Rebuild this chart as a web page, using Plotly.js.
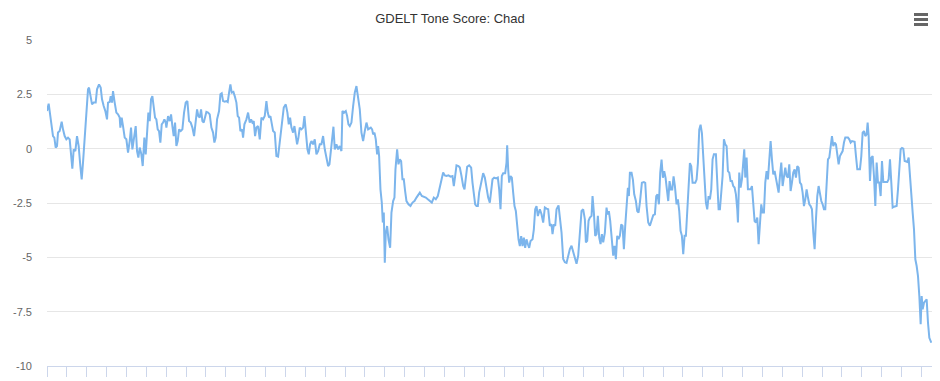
<!DOCTYPE html>
<html>
<head>
<meta charset="utf-8">
<script src="https://cdn.plot.ly/plotly-3.0.1.min.js"></script>
<style>
  html, body { margin: 0; padding: 0; background: #ffffff; }
  #chart { width: 940px; height: 381px; }
</style>
</head>
<body>
<div id="chart"></div>
<script>
// Chart text
const chartTitle = "GDELT Tone Score: Chad";

// Y axis ticks
const yTickVals = [5, 2.5, 0, -2.5, -5, -7.5, -10];
const yTickText = ["5", "2.5", "0", "-2.5", "-5", "-7.5", "-10"];

// Time (days from the first observation)
const days = [
  0,2.5,5,7.5,9,11,13,15,16.5,19,22,24,26.5,29,31.5,34,35.5,38,40,42.5,45,47.5,50,52,54,56.5,59,61.5,63,65,67.5,70,73,75,78,80.5,82.5,85,87.5,90,91.5,94,95.5,97.5,99,101.5,104,106.5,109,110,112,114,116.5,119,121.5,124,126,128,130.5,133,135,137,139,141.5,143.5,146,148,150,152,154,156,158,160,162,164,166,168,170,172,174,176,178,179,181.5,184,186,188,190,192,194,196,198,200.5,203,205.5,208,210.5,213,215.5,218,220.5,223,225,227,
  229,231,233,235,237,239,241.5,244,246.5,249,251,253,255,258,260,262,264,266.5,269,271,273,275,277,279.5,281.5,284,286,288,290,292.5,294,296,299,301.5,304,306,308,310,312,314,316.5,319,321.5,324,326.5,329,331,333,335,337,339,341.5,344,346.5,349,352,355,358,360.5,362.5,364.5,366.5,369,371,373,375,377,379,381.5,384,386,388,390.5,392.5,394.5,396.5,399,401.5,404,406.5,409,411.5,414,416.5,419,421.5,423.5,425.5,427.5,429.5,431.5,434,436.5,439,441.5,443,445.5,448,450,452,454,456.5,459,461.5,464,466.5,469,471.5,474,476.5,479,481.5,
  485.5,487.5,489,491,493,495,496.5,498,500,502,503.5,505,506.5,508,510,512,514.5,516.5,519,521,522.5,525,527,529,531,533,535,537,539,542,545,548,551,554,557,559,562,565,568,571,574,577,580,583,586,588,591,594,596.5,599,602,605,608,610,612,614,617,619,621.5,624,626,628,630,633,636,638,640,642,644,646,648,651,654,656.5,659,661.5,664,666,668,670.5,673.5,676,678,680,682,684,687,689,690,691.5,693,695,697,699,701,703,705,707,709,711,713,715,717,719,721,723,725,728,730,732,734,736,
  739,741.5,744,746.5,749,751.5,754,756.5,758,760,762,764,767,769,771.5,774,776.5,779,781.5,784,786.5,789,791.5,794,796.5,799,801.5,804,806.5,808,810,812,814,816.5,818,820,822,824,826,828,830,832,834,836.5,839,840.5,842.5,844.5,846.5,849,851,853,855,857,859,861,863,865,867,869,871,872.5,874,876.5,878.5,880.5,883,885,887,889,892,895,897,899,901.5,904,906.5,909,911.5,913.5,915.5,917.5,919.5,921.5,923.5,925.5,927.5,929.5,931.5,933.5,935.5,937.5,939.5,941.5,944,946,948,950,952,954,956,958,960,962,964,966,968,970,972,974,976,978,980,982,984,986,988,990,992,
  994,996,998,1000,1003,1005,1007,1009,1011,1013,1015,1017,1019,1021,1023,1025,1027,1029,1031,1033,1035,1036,1038,1040,1042,1044,1045.5,1047,1049,1051,
  1053,1055,1057,1059,1061,1063,1065,1067,1069,1071,1073,1075,1077,1079,1081,1083,1085,1087,1089,1091,1093,1095,1097,1099,1101,1103,1105,1107,1109,1111,1113,1115,1117,1119,1121,1123,1125,1127,1129,1131,1133,1135,1137,1139,1141,1143,1145,1147,1149,1151,1153,1155,1157,1159,1161,1163,1165,1167,1169,1171,1173,1175,1177,1179,1181,1183,1185,1187,1189,1191,1193,1195,1197,1199,1201,1203,1205,1207,1209,1211,1213,1215,1217,1219,1221,1223,1225,1227,1229,
  1230.5,1232,
  1234,1236,1238,1240,1242,1244,1246,1248,1250,1252,1254,1256,1258,1260,1262,1264,1266,1268,1270,1272,1274,1276,1278,1280,1282,1284,1286,1288,1290,1292,1294,1296,1298,1300,1302,1304,1306,1308,1310,
  1311.5,1313,1315,1317,1319,1321,1323,1326
];

// GDELT tone score
const tone = [
  1.73,2.07,1.50,1.04,0.58,0.51,0.05,0.12,0.74,0.81,1.24,0.89,0.58,0.43,0.51,0.43,-0.03,-0.92,-0.03,-0.11,0.58,0.12,-0.80,-1.41,-0.64,0.58,1.66,2.73,2.81,2.42,2.04,2.12,2.12,2.73,2.96,2.81,2.27,1.96,1.73,1.35,2.12,2.15,2.42,2.12,2.65,2.12,1.66,1.58,1.43,0.97,1.43,1.04,0.51,0.43,-0.18,0.35,0.97,-0.03,0.43,1.04,-0.11,-0.41,0.05,-0.26,-0.80,0.51,-0.26,0.97,1.66,1.27,2.27,2.42,1.96,1.43,1.35,0.89,0.81,0.28,1.12,1.20,1.35,1.20,0.97,1.50,1.27,1.58,1.04,0.58,1.20,0.12,0.35,0.89,0.81,0.89,1.66,2.12,2.19,1.27,1.20,0.97,0.58,1.35,1.81,1.50,
  1.43,1.81,1.27,1.20,1.50,1.69,1.66,1.58,0.97,0.74,0.28,0.51,1.35,1.73,2.50,2.55,2.19,2.16,2.19,2.15,2.58,2.96,2.58,2.61,2.42,2.12,1.50,1.43,0.81,0.89,0.51,1.12,1.35,1.66,1.20,1.35,1.20,1.27,0.58,0.97,1.04,0.43,1.43,1.35,1.50,2.19,1.66,1.43,1.50,1.04,0.81,0.74,-0.34,-0.37,0.28,1.20,1.89,2.04,1.66,1.12,1.43,0.97,0.74,1.04,0.66,0.20,0.51,0.97,0.89,0.97,1.50,0.66,-0.03,-0.26,0.20,0.35,0.20,0.43,-0.26,-0.11,0.20,0.20,0.58,-0.03,-0.41,-0.80,-0.72,-0.11,0.66,1.01,-0.03,0.20,-0.03,0.12,-0.11,1.73,1.66,1.73,1.50,1.12,1.04,1.20,1.96,2.58,2.88,2.27,1.81,0.74,0.35,0.81,1.20,0.89,
  0.97,0.89,0.66,0.74,0.43,-0.26,0.12,-0.34,-1.87,-2.48,-3.40,-2.94,-5.25,-3.87,-3.56,-4.17,-4.56,-2.94,-2.41,-2.25,-0.95,-0.03,-0.72,-0.49,-0.57,-1.41,-1.41,-1.95,-2.41,-2.56,-2.64,-2.48,-2.41,-2.25,-2.10,-2.02,-2.18,-2.22,-2.25,-2.33,-2.41,-2.48,-2.25,-2.33,-2.18,-1.87,-1.41,-1.10,-1.23,-1.26,-1.23,-1.29,-1.26,-1.72,-1.26,-0.77,-0.80,-0.87,-1.26,-1.72,-1.87,-1.26,-0.83,-0.77,-0.87,-1.56,-2.18,-2.56,-2.64,-2.64,-2.02,-1.56,-1.13,-1.33,-1.79,-2.25,-2.48,-1.87,-1.41,-1.33,-1.37,-1.33,-1.87,-2.79,-1.26,-1.13,-1.13,-0.64,0.15,-0.95,-1.56,-1.26,-1.33,-2.02,-2.64,-2.87,-3.56,-4.17,-4.48,-4.02,-4.48,-4.09,-4.56,-4.17,-4.40,-4.56,-4.25,-4.17,-3.71,-2.79,-2.64,-3.10,
  -2.79,-3.02,-3.40,-2.71,-2.76,-2.79,-3.55,-3.48,-3.93,-3.48,-3.55,-2.79,-2.61,-3.17,-3.86,-5.08,-5.23,-5.26,-4.92,-4.62,-4.47,-4.77,-5.08,-5.30,-4.92,-3.70,-2.87,-2.79,-3.25,-4.31,-4.24,-3.32,-3.17,-3.09,-2.18,-2.94,-4.01,-3.93,-3.09,-4.09,-4.39,-3.93,-4.31,-3.86,-2.71,-3.02,-2.87,-3.32,-4.01,-4.92,-4.47,-5.08,-4.01,-4.16,-4.01,-3.48,-3.55,-4.62,-3.55,-2.48,-1.80,-2.18,-1.11,-1.11,-1.42,-2.10,-2.41,-2.87,-2.94,-2.48,-1.57,-1.54,-1.57,-2.64,-3.40,-3.55,-3.25,-3.06,-3.02,-2.18,-2.10,-2.56,-1.11,-0.50,-1.34,-1.04,-1.34,-1.80,-2.41,-1.49,-1.88,-1.88,-1.27,-1.72,-2.56,-2.33,-2.87,-3.78,-4.01,-4.85,-4.01,-4.01,-2.94,-1.95,-0.66,-0.81,-1.57,-1.57,-1.57,-1.42,-0.66,0.87,1.10,0.72,-0.35,-1.57,-2.48,-2.79,-2.18,
  -2.33,-1.87,-0.49,-0.26,-0.26,-1.41,-2.79,-2.79,-1.87,-1.26,0.43,0.20,0.12,-1.03,-1.10,-1.49,-1.49,-1.72,-1.79,-2.10,-2.79,-3.40,-1.10,-1.79,-1.41,-0.64,-0.03,-1.33,-0.41,-1.87,
  -1.87,-1.87,-1.72,-2.64,-3.33,-3.40,-3.17,-4.40,-3.56,-2.56,-2.94,-2.94,-1.56,-1.03,-1.41,-0.49,0.35,-0.49,-1.18,-1.03,-1.41,-1.72,-2.02,-1.26,-0.64,-1.72,-1.18,-0.87,-1.26,-1.33,-0.72,-1.95,-1.56,-1.10,-0.95,-1.33,-0.80,-0.87,-1.56,-1.64,-2.02,-2.64,-2.33,-1.87,-2.25,-2.56,-2.64,-2.79,-3.87,-4.63,-3.25,-2.18,-1.72,-2.10,-2.41,-2.56,-2.79,-2.79,-1.41,-0.49,-0.41,0.12,0.58,0.12,0.28,0.20,-0.34,-0.72,-0.34,-0.18,-0.11,0.28,0.51,0.51,0.51,0.43,0.28,0.35,0.35,0.32,-0.34,-0.95,-0.95,-0.95,-0.34,0.74,0.81,0.58,0.66,
  1.20,0.58,
  -1.49,-0.41,-0.34,-1.26,-2.64,-0.64,-1.56,-1.56,-2.18,-0.57,-1.53,-1.53,-1.53,-1.53,-1.41,-0.49,-1.56,-2.71,-2.67,-2.64,-2.64,-1.87,-0.64,-0.03,0.03,0.00,-0.57,-0.61,-0.61,-0.41,-1.41,-2.18,-2.94,-3.71,-5.09,-5.40,-5.86,-6.78,-8.08,
  -6.78,-7.39,-7.09,-7.01,-6.93,-8.01,-8.70,-8.93
];

const lineColor = "#7cb5ec";

const trace = {
  type: "scatter",
  mode: "lines",
  x: days,
  y: tone,
  line: { color: lineColor, width: 2 },
  hoverinfo: "x+y",
  showlegend: false
};

// hamburger (export menu) icon in paper coordinates
const plotL = 47, plotR = 932, plotT = 40, plotB = 366;
function px2paperX(px) { return (px - plotL) / (plotR - plotL); }
function px2paperY(py) { return (plotB - py) / (plotB - plotT); }
const menuShapes = [14.5, 19.5, 24.5].map(py => ({
  type: "line", xref: "paper", yref: "paper",
  x0: px2paperX(914), x1: px2paperX(928),
  y0: px2paperY(py), y1: px2paperY(py),
  line: { color: "#666666", width: 3 }
}));

const layout = {
  width: 940,
  height: 381,
  margin: { l: plotL, r: 940 - plotR, t: plotT, b: 381 - plotB },
  paper_bgcolor: "#ffffff",
  plot_bgcolor: "#ffffff",
  font: { family: "'Liberation Sans', Arial, sans-serif", color: "#666666", size: 11 },
  title: {
    text: chartTitle,
    font: { family: "'Liberation Sans', Arial, sans-serif", size: 13, color: "#333333" },
    x: 450 / 940, xref: "container", xanchor: "center",
    y: 1 - 18 / 381, yref: "container", yanchor: "middle"
  },
  xaxis: {
    range: [0, 1327],
    tick0: 0,
    dtick: 29.8,
    showgrid: false,
    zeroline: false,
    showline: true,
    linecolor: "#ccd6eb",
    linewidth: 1,
    ticks: "outside",
    ticklen: 10,
    tickwidth: 1,
    tickcolor: "#ccd6eb",
    showticklabels: false,
    fixedrange: true
  },
  yaxis: {
    range: [-10, 5],
    tickmode: "array",
    tickvals: yTickVals,
    ticktext: yTickText,
    showgrid: true,
    gridcolor: "#e6e6e6",
    gridwidth: 1,
    zeroline: false,
    showline: false,
    ticks: "",
    ticklabelstandoff: 14,
    tickfont: { size: 11, color: "#666666" },
    fixedrange: true
  },
  shapes: menuShapes,
  hovermode: "closest"
};

Plotly.newPlot("chart", [trace], layout, { displayModeBar: false, responsive: false });
</script>
</body>
</html>
